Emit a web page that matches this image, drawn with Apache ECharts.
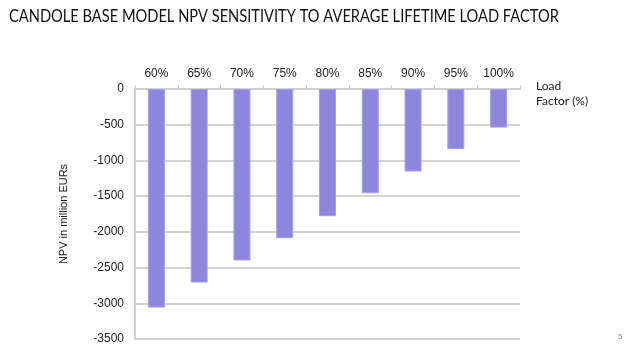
<!DOCTYPE html>
<html><head><meta charset="utf-8">
<script src="https://cdn.jsdelivr.net/npm/echarts@6/dist/echarts.min.js"></script>
<style>html,body{margin:0;padding:0;background:#fff}#c{width:640px;height:360px}</style>
</head><body><div id="c"></div>
<script>
const categories = ['60%','65%','70%','75%','80%','85%','90%','95%','100%'];
const npvValues = [-3060,-2710,-2400,-2090,-1780,-1460,-1155,-840,-540];
const yTicks = {min:-3500, max:0, interval:500};
const titleText = 'CANDOLE BASE MODEL NPV SENSITIVITY TO AVERAGE LIFETIME LOAD FACTOR';
const xName = 'Load\nFactor (%)';
const yName = 'NPV in million EURs';

const chart = echarts.init(document.getElementById('c'), null, {renderer:'canvas'});
chart.setOption({
  animation:false,
  backgroundColor:'#fff',
  graphic:[
    {type:'text',x:9,y:8,scaleX:0.862,style:{text:titleText,font:'17px Lato',fill:'#111'}},
    {type:'text',left:618,top:333,style:{text:'5',fontSize:8,fill:'#999',fontFamily:'Liberation Sans'}}
  ],
  grid:{left:135,right:120,top:89,bottom:21},
  xAxis:{type:'category',data:categories,position:'top',
    name:xName,nameLocation:'end',nameGap:16,
    nameTextStyle:{fontFamily:'Lato',fontSize:12,color:'#222',align:'left',verticalAlign:'top',lineHeight:15,padding:[-10,0,0,0]},
    axisLine:{lineStyle:{color:'#cfcfcf',width:2}},
    axisTick:{show:true,length:4,lineStyle:{color:'#cfcfcf'}},
    axisLabel:{fontFamily:'Liberation Sans',fontSize:12,color:'#222',margin:9},
    splitLine:{show:false}},
  yAxis:{type:'value',min:yTicks.min,max:yTicks.max,interval:yTicks.interval,
    name:yName,nameLocation:'middle',nameRotate:90,nameGap:66,
    nameTextStyle:{fontFamily:'Liberation Sans',fontSize:11,color:'#222'},
    axisLine:{show:true,lineStyle:{color:'#cfcfcf',width:2}},
    axisTick:{show:false},
    axisLabel:{fontFamily:'Liberation Sans',fontSize:12,color:'#222',margin:11,formatter:v=>String(v)},
    splitLine:{lineStyle:{color:'#d4d4d4',width:2}}},
  series:[{type:'bar',data:npvValues,barWidth:17,
    itemStyle:{color:'#8e86dd',borderColor:'#a69ef0',borderWidth:1}}]
});
</script></body></html>
